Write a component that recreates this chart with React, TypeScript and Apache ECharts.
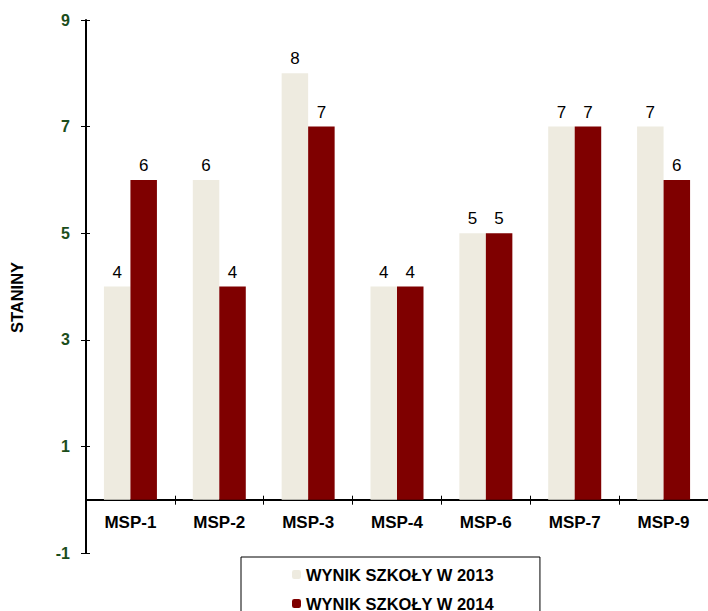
import React, { useEffect, useRef } from "react";
import * as echarts from "echarts";

const categories = ["MSP-1", "MSP-2", "MSP-3", "MSP-4", "MSP-6", "MSP-7", "MSP-9"];
const series2013 = [4, 6, 8, 4, 5, 7, 7];
const series2014 = [6, 4, 7, 4, 5, 7, 6];
const seriesNames = ["WYNIK SZKOŁY W 2013", "WYNIK SZKOŁY W 2014"];
const yTicks = { min: -1, max: 9, interval: 2 };

export default function App() {
  const ref = useRef<HTMLDivElement>(null);
  useEffect(() => {
    if (!ref.current) return;
    const chart = echarts.init(ref.current, null, { renderer: "svg" });
    const font = "'Liberation Sans', Arial, sans-serif";
    const labelCfg = {
      show: true,
      position: "top",
      distance: 6,
      color: "#000",
      fontSize: 17,
      fontFamily: font,
    };
    const W = 708;
    const H = 611;
    const gridLeft = 86;
    const gridTop = 20;
    const gridBottom = 58;
    const gridHeight = H - gridTop - gridBottom;
    const gridWidth = W - gridLeft;
    // distance from the bottom of the grid up to the value 0
    const zeroOffset = (gridHeight * (0 - yTicks.min)) / (yTicks.max - yTicks.min);
    chart.setOption({
      animation: false,
      backgroundColor: "#fff",
      textStyle: { fontFamily: font },
      grid: { left: gridLeft, right: 0, top: gridTop, bottom: gridBottom, containLabel: false },
      legend: {
        orient: "vertical",
        left: 241,
        top: 557,
        height: 120,
        padding: [9, 46, 9, 51],
        itemGap: 12,
        itemWidth: 9,
        itemHeight: 9,
        borderColor: "#000",
        borderWidth: 1,
        backgroundColor: "#fff",
        textStyle: { fontSize: 16.5, fontWeight: "bold", color: "#000", fontFamily: font },
        data: seriesNames,
      },
      xAxis: [
        {
          type: "category",
          data: categories,
          position: "bottom",
          offset: -zeroOffset,
          axisLine: { onZero: false, lineStyle: { color: "#000", width: 2 } },
          axisTick: { show: true, length: 5, lineStyle: { color: "#000", width: 1 } },
          axisLabel: { fontSize: 17, fontWeight: "bold", color: "#000", margin: 14, fontFamily: font },
        },
        {
          type: "category",
          data: categories,
          position: "top",
          offset: -(gridHeight - zeroOffset),
          axisLine: { show: false, onZero: false },
          axisTick: { show: true, length: 4, lineStyle: { color: "#000", width: 1 } },
          axisLabel: { show: false },
        },
      ],
      yAxis: [
        {
          type: "value",
          min: yTicks.min,
          max: yTicks.max,
          interval: yTicks.interval,
          name: "STANINY",
          nameLocation: "middle",
          nameGap: 61,
          nameRotate: 90,
          nameTextStyle: {
            fontSize: 16.5,
            fontWeight: "bold",
            color: "#000",
            fontFamily: font,
            padding: [0, 22, 0, 0],
          },
          splitLine: { show: false },
          axisLine: { show: true, lineStyle: { color: "#000", width: 2 } },
          axisTick: { show: true, length: 5, lineStyle: { color: "#000", width: 1 } },
          axisLabel: { fontSize: 16, fontWeight: "bold", color: "#1b4d1b", margin: 16, fontFamily: font },
        },
        {
          type: "value",
          min: yTicks.min,
          max: yTicks.max,
          interval: yTicks.interval,
          position: "right",
          offset: -gridWidth,
          splitLine: { show: false },
          axisLine: { show: false },
          axisTick: { show: true, length: 4, lineStyle: { color: "#000", width: 1 } },
          axisLabel: { show: false },
        },
      ],
      series: [
        {
          name: seriesNames[0],
          type: "bar",
          data: series2013,
          barWidth: 26.5,
          barGap: "0%",
          itemStyle: { color: "#EEEBE0" },
          label: labelCfg,
        },
        {
          name: seriesNames[1],
          type: "bar",
          data: series2014,
          barWidth: 26.5,
          barGap: "0%",
          itemStyle: { color: "#7F0000" },
          label: labelCfg,
        },
      ],
    });
    return () => chart.dispose();
  }, []);
  return (
    <div
      ref={ref}
      style={{ position: "fixed", left: 0, top: 0, width: 708, height: 611 }}
    />
  );
}
